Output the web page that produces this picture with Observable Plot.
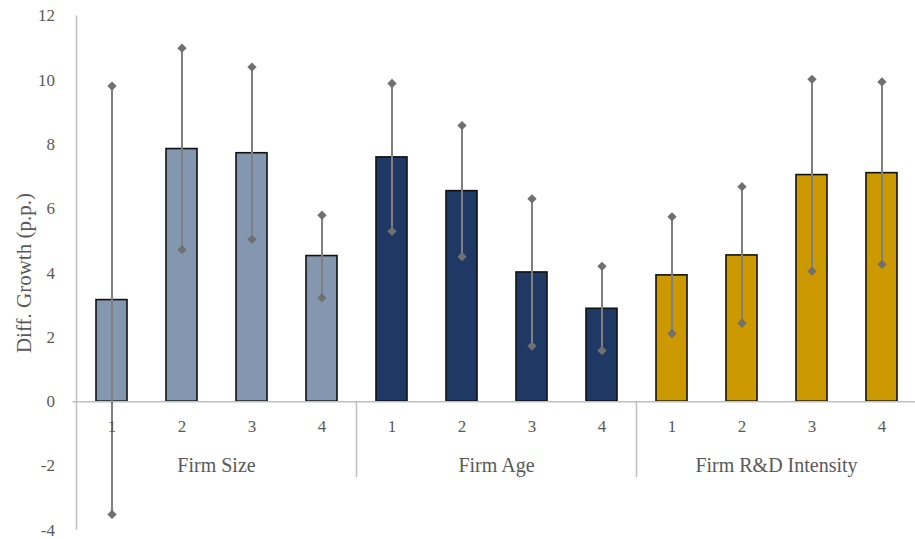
<!DOCTYPE html>
<html>
<head>
<meta charset="utf-8">
<script src="https://cdn.jsdelivr.net/npm/d3@7"></script>
<script src="https://cdn.jsdelivr.net/npm/@observablehq/plot@0.6"></script>
<style>
  html, body { margin: 0; padding: 0; background: #fff; }
  #chart { width: 915px; height: 539px; overflow: hidden; }
</style>
</head>
<body>
<div id="chart"></div>
<script>
// ---- data ----
const groups = ["Firm Size", "Firm Age", "Firm R&D Intensity"];
const quartiles = ["1", "2", "3", "4"];
const groupColors = ["#8497B0", "#203864", "#CC9900"];

const sizeValues = [3.16, 7.86, 7.73, 4.53];
const sizeLow    = [-3.51, 4.73, 5.05, 3.23];
const sizeHigh   = [9.82, 11.0, 10.41, 5.80];

const ageValues  = [7.60, 6.55, 4.02, 2.89];
const ageLow     = [5.30, 4.51, 1.73, 1.59];
const ageHigh    = [9.90, 8.59, 6.31, 4.21];

const rdValues   = [3.93, 4.55, 7.05, 7.11];
const rdLow      = [2.12, 2.44, 4.06, 4.27];
const rdHigh     = [5.75, 6.69, 10.03, 9.95];

const yTicks = [-4, -2, 0, 2, 4, 6, 8, 10, 12];
const yTitle = "Diff. Growth (p.p.)";

// ---- table ----
const values = [sizeValues, ageValues, rdValues];
const lows = [sizeLow, ageLow, rdLow];
const highs = [sizeHigh, ageHigh, rdHigh];
const rows = [];
groups.forEach((g, gi) => quartiles.forEach((q, qi) => rows.push({
  group: g, q, key: g + "|" + q,
  value: values[gi][qi], low: lows[gi][qi], high: highs[gi][qi]
})));

const textColor = "#595959";
const axisGray = "#BFBFBF";
const errColor = "#7F7F7F";
const font = "'Liberation Serif', serif";

const plot = Plot.plot({
  width: 915,
  height: 539,
  marginLeft: 72.5,
  marginRight: -5.5,
  marginTop: 15.5,
  marginBottom: 9.3,
  style: { fontFamily: font, fontSize: "17px", color: textColor, background: "white", overflow: "visible" },
  x: { domain: rows.map(d => d.key), paddingInner: 0.56, paddingOuter: 0.28, axis: null },
  y: { domain: [-4, 12], axis: null },
  color: { domain: groups, range: groupColors },
  marks: [
    Plot.axisY({ ticks: yTicks, tickFormat: d => String(d), tickSize: 0, tickPadding: 18, label: null, fontSize: 17, fill: textColor }),
    Plot.barY(rows, { x: "key", y: "value", fill: "group", stroke: "#111", strokeWidth: 1.6 }),
    Plot.ruleY([0], { stroke: axisGray, strokeWidth: 1.5 }),
    Plot.ruleX(rows, { x: "key", y1: "low", y2: "high", stroke: errColor, strokeWidth: 2 }),
    Plot.dot(rows, { x: "key", y: "low", symbol: "diamond2", r: 4.2, fill: "#707070", stroke: "none" }),
    Plot.dot(rows, { x: "key", y: "high", symbol: "diamond2", r: 4.2, fill: "#707070", stroke: "none" }),
    Plot.text(rows, { x: "key", y: () => 0, text: "q", dy: 24.5, fontSize: 17, fill: textColor }),
    Plot.text([yTitle], { frameAnchor: "left", textAnchor: "middle", rotate: -90, dx: -48.5, text: d => d, fontSize: 21, fill: textColor })
  ]
});

// ---- category axis decorations from the plot's own scales ----
const xs = plot.scale("x");
const ys = plot.scale("y");
const svg = d3.select(plot);
const gap = xs.step - xs.bandwidth;
const y0 = ys.apply(0);
const axisX = xs.apply(rows[0].key) - gap / 2;

const deco = svg.append("g");
// vertical value-axis line
deco.append("line")
  .attr("x1", axisX).attr("x2", axisX)
  .attr("y1", ys.apply(yTicks[yTicks.length - 1])).attr("y2", ys.apply(yTicks[0]))
  .attr("stroke", axisGray).attr("stroke-width", 1.5);

groups.forEach((g, gi) => {
  const keys = rows.filter(d => d.group === g).map(d => d.key);
  const left = xs.apply(keys[0]) - gap / 2;
  const right = xs.apply(keys[keys.length - 1]) + xs.bandwidth + gap / 2;
  if (gi > 0) {
    deco.append("line")
      .attr("x1", left).attr("x2", left)
      .attr("y1", y0).attr("y2", y0 + 76)
      .attr("stroke", axisGray).attr("stroke-width", 1.5);
  }
  if (gi === groups.length - 1) {
    deco.append("line")
      .attr("x1", right).attr("x2", right)
      .attr("y1", y0).attr("y2", y0 + 76)
      .attr("stroke", axisGray).attr("stroke-width", 1.5);
  }
  deco.append("text")
    .attr("x", (left + right) / 2)
    .attr("y", y0 + 64)
    .attr("dy", "0.32em")
    .attr("text-anchor", "middle")
    .attr("font-family", font)
    .attr("font-size", 20)
    .attr("fill", textColor)
    .text(g);
});

document.getElementById("chart").appendChild(plot);
</script>
</body>
</html>
